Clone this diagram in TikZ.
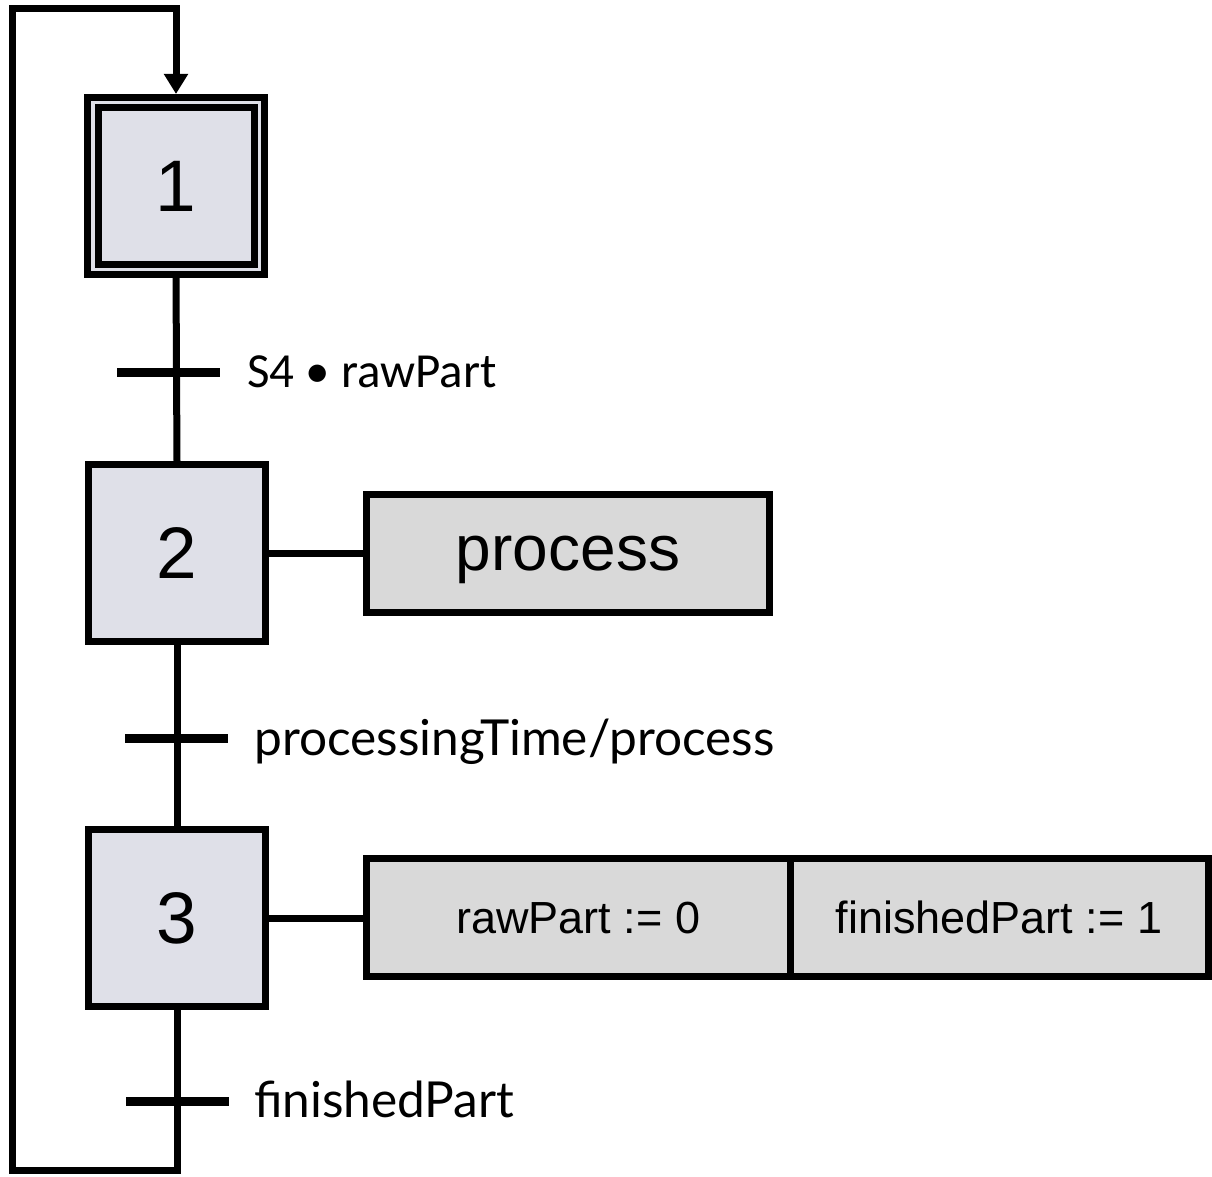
\documentclass[tikz,border=0pt]{standalone}
\usepackage{fontspec}
\setmainfont{Liberation Sans}
\newfontfamily\calfont{Carlito}
\newfontfamily\aptfont{Lato}
\usetikzlibrary{arrows.meta}
\definecolor{stepfill}{HTML}{DFE0E8}
\definecolor{actfill}{HTML}{D9D9D9}
\begin{document}
\begin{tikzpicture}[x=1pt,y=-1pt,
  stepbox/.style={draw, line width=7pt, fill=stepfill, minimum width=177pt, minimum height=177pt, inner sep=0pt, font=\fontsize{73}{73}\selectfont},
  actbox/.style={draw, line width=7pt, fill=actfill, inner sep=0pt, minimum height=118pt, text depth=0pt},
  link/.style={line width=7pt, line join=miter},
  transbar/.style={fill=black, draw=none, minimum width=103pt, minimum height=9pt, inner sep=0pt, outer sep=0pt},
  tlabel/.style={anchor=base west, inner sep=0pt},
]
\useasboundingbox (0,0) rectangle (1212,1177);

% steps
\node[stepbox] (s1) at (176,186) {1};
\draw[line width=7pt] ([shift={(14,14)}]s1.north west) rectangle ([shift={(-14,-14)}]s1.south east);
\node[stepbox] (s2) at (177,553) {2};
\node[stepbox] (s3) at (177,918) {3};

% links between steps
\draw[link] (s1.south) -- (s2.north);
\draw[link] (s2.south) -- (s3.north);

% transitions
\node[transbar] (t1) at (168.5,372) {};
\node[transbar] (t2) at (176.5,738) {};
\node[transbar] (t3) at (177,1101) {};
\node[tlabel, font=\calfont\fontsize{49}{49}\selectfont] (l1) at (247,387) {S4 • rawPart};
\node[tlabel, font=\aptfont\fontsize{49.6}{49.6}\selectfont] (l2) at (254,755) {processingTime/process};
\node[tlabel, font=\aptfont\fontsize{49.6}{49.6}\selectfont] (l3) at (254,1117) {finishedPart};

% actions
\node[actbox, minimum width=403pt, font=\fontsize{64}{64}\selectfont] (a2) at (568,553.5) {process};
\draw[link] (s2.east) -- (s2.east -| a2.west);
\node[actbox, minimum width=423.5pt, font=\fontsize{45}{45}\selectfont] (a3a) at (578.25,917.5) {rawPart := 0};
\node[actbox, minimum width=418pt, font=\fontsize{45}{45}\selectfont] (a3b) at (999,917.5) {finishedPart := 1};
\draw[link] (s3.east) -- (s3.east -| a3a.west);

% loop back
\coordinate (bl) at (12,1170);
\coordinate (tl) at (12,9);
\draw[link, -{Triangle[length=20pt,width=23pt]}] (s3.south) -- (s3.south |- bl) -- (bl) -- (tl) -- (tl -| s1.north) -- (s1.north);
\end{tikzpicture}
\end{document}
